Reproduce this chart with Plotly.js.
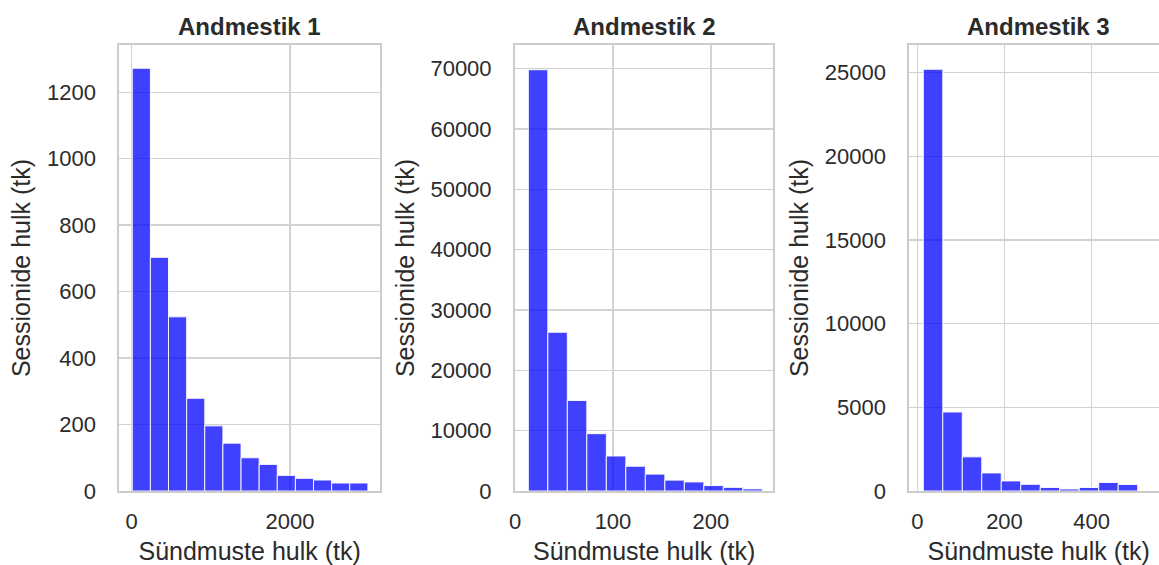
<!DOCTYPE html>
<html>
<head>
<meta charset="utf-8">
<script src="https://cdn.plot.ly/plotly-3.0.1.min.js"></script>
<style>
html, body { margin: 0; padding: 0; overflow: hidden; background: #ffffff; }
#chart { width: 1200px; height: 565px; }
</style>
</head>
<body>
<div id="chart"></div>
<script>
// ---- data ----
const panelTitles = ["Andmestik 1", "Andmestik 2", "Andmestik 3"];
const xTitle = "Sündmuste hulk (tk)";
const yTitle = "Sessionide hulk (tk)";

// Andmestik 1: histogram bins
const binStart1 = 7;
const binWidth1 = 229;
const counts1 = [1272, 703, 524, 279, 196, 144, 100, 80, 47, 38, 33, 24, 24];

// Andmestik 2
const binStart2 = 13.6;
const binWidth2 = 19.9;
const counts2 = [69800, 26300, 15000, 9500, 5800, 4100, 2800, 1800, 1500, 900, 600, 350];

// Andmestik 3
const binStart3 = 13.8;
const binWidth3 = 44.7;
const counts3 = [25200, 4720, 2040, 1080, 600, 400, 210, 120, 210, 510, 390];

// ---- build traces ----
function centers(start, width, counts) {
  return counts.map((_, i) => start + width * (i + 0.5));
}
const barColor = "rgba(0,0,255,0.75)";
function histTrace(start, width, counts, xa, ya) {
  return {
    type: "bar",
    x: centers(start, width, counts),
    y: counts,
    width: counts.map(() => width),
    xaxis: xa, yaxis: ya,
    marker: { color: barColor, line: { color: "rgba(255,255,255,0.9)", width: 1 } },
    hoverinfo: "x+y",
    showlegend: false
  };
}
const data = [
  histTrace(binStart1, binWidth1, counts1, "x", "y"),
  histTrace(binStart2, binWidth2, counts2, "x2", "y2"),
  histTrace(binStart3, binWidth3, counts3, "x3", "y3")
];

const W = 1200;
const textColor = "#2b2b2b";
const fontFam = "Liberation Sans, Arial, sans-serif";
const tickFont = { family: fontFam, size: 22, color: textColor };
const titleFont = { family: fontFam, size: 25, color: textColor };
const gridColor = "#d2d2d2";

function xAxis(domain, range, dtick, anchor) {
  return {
    domain: domain, range: range, dtick: dtick, tick0: 0, anchor: anchor,
    showgrid: true, gridcolor: gridColor, gridwidth: 1.3,
    zeroline: false,
    showline: true, mirror: true, linecolor: "#cccccc", linewidth: 2,
    ticks: "outside", ticklen: 10, tickcolor: "rgba(0,0,0,0)",
    tickfont: tickFont, tickformat: "d",
    title: { text: xTitle, font: titleFont, standoff: 13 },
    automargin: false, fixedrange: true
  };
}
function yAxis(range, dtick, anchor) {
  return {
    domain: [0, 1], range: range, dtick: dtick, tick0: 0, anchor: anchor,
    showgrid: true, gridcolor: gridColor, gridwidth: 1.3,
    zeroline: false,
    showline: true, mirror: true, linecolor: "#cccccc", linewidth: 2,
    ticks: "outside", ticklen: 17, tickcolor: "rgba(0,0,0,0)",
    tickfont: tickFont, tickformat: "d",
    title: { text: yTitle, font: titleFont, standoff: 9 },
    automargin: false, fixedrange: true
  };
}

const d1 = [119.3 / W, 380 / W];
const d2 = [515 / W, 773.3 / W];
const d3 = [909.3 / W, 1168 / W];

const layout = {
  width: W, height: 565,
  margin: { l: 0, r: 0, t: 45, b: 74 },
  paper_bgcolor: "#ffffff", plot_bgcolor: "#ffffff",
  bargap: 0,
  xaxis: xAxis(d1, [-157, 3137], 2000, "y"),
  yaxis: yAxis([0, 1342], 200, "x"),
  xaxis2: xAxis(d2, [0, 263.6], 100, "y2"),
  yaxis2: yAxis([0, 73900], 10000, "x2"),
  xaxis3: xAxis(d3, [-18.3, 575], 200, "y3"),
  yaxis3: yAxis([0, 26650], 5000, "x3"),
  annotations: [d1, d2, d3].map((d, i) => ({
    text: "<b>" + panelTitles[i] + "</b>",
    xref: "paper", yref: "paper",
    x: (d[0] + d[1]) / 2, y: 1, yshift: 3,
    xanchor: "center", yanchor: "bottom",
    showarrow: false,
    font: { family: fontFam, size: 24, color: textColor }
  }))
};

Plotly.newPlot("chart", data, layout, { displayModeBar: false, staticPlot: true });
</script>
</body>
</html>
